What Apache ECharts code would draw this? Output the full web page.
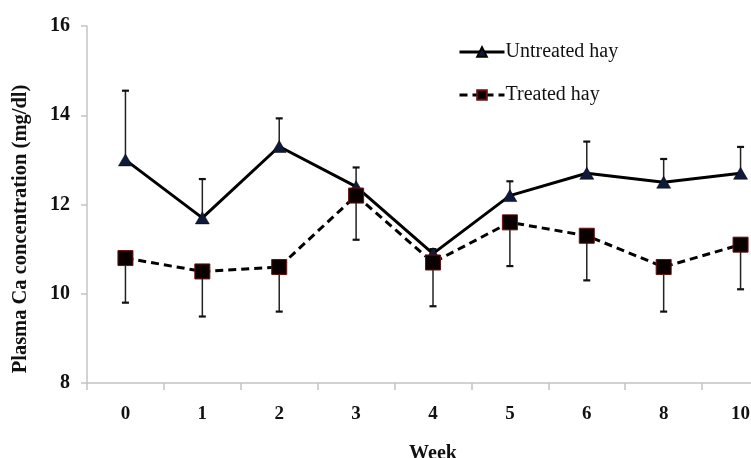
<!DOCTYPE html>
<html>
<head>
<meta charset="utf-8">
<script src="https://cdn.jsdelivr.net/npm/echarts@6/dist/echarts.min.js"></script>
<style>
html,body{margin:0;padding:0;background:#fff;}
#c{width:751px;height:458px;}
</style>
</head>
<body>
<div id="c"></div>
<script>
const weeks = ['0', '1', '2', '3', '4', '5', '6', '8', '10'];
const untreated = [13.0, 11.7, 13.3, 12.4, 10.9, 12.2, 12.7, 12.5, 12.7];
const treated = [10.8, 10.5, 10.6, 12.2, 10.7, 11.6, 11.3, 10.6, 11.1];
const untreatedUpper = [14.55, 12.57, 13.93, 12.83, 11.0, 12.52, 13.41, 13.02, 13.29];
const treatedLower = [9.8, 9.49, 9.6, 11.21, 9.72, 10.62, 10.3, 9.6, 10.1];
const yTicks = { min: 8, max: 16, interval: 2 };

const FONT = 'Liberation Serif';

function errData(center, end) {
  return center.map((v, i) => [i, v, end[i]]);
}

function renderErr(params, api) {
  const x = api.value(0);
  const p1 = api.coord([x, api.value(1)]);
  const p2 = api.coord([x, api.value(2)]);
  return {
    type: 'group',
    children: [
      { type: 'line', shape: { x1: p1[0], y1: p1[1], x2: p2[0], y2: p2[1] },
        style: { stroke: '#222', lineWidth: 1.5 } },
      { type: 'line', shape: { x1: p2[0] - 3.5, y1: p2[1], x2: p2[0] + 3.5, y2: p2[1] },
        style: { stroke: '#111', lineWidth: 2.2 } }
    ]
  };
}

const chart = echarts.init(document.getElementById('c'), null, { renderer: 'canvas' });
chart.setOption({
  animation: false,
  backgroundColor: '#fff',
  grid: { left: 87, top: 26, bottom: 75, width: 692, containLabel: false, outerBoundsMode: 'none' },
  legend: {
    orient: 'vertical',
    left: 453,
    top: 37,
    itemWidth: 45,
    itemHeight: 12,
    itemGap: 23,
    lineStyle: { width: 3 },
    data: ['Untreated hay', 'Treated hay'],
    textStyle: { fontFamily: FONT, fontSize: 20, color: '#111', padding: [0, 0, 0, -4] }
  },
  xAxis: {
    type: 'category',
    data: weeks,
    boundaryGap: true,
    name: 'Week',
    nameLocation: 'middle',
    nameGap: 61,
    nameTextStyle: { fontFamily: FONT, fontSize: 20, fontWeight: 'bold', color: '#111' },
    axisLine: { lineStyle: { color: '#c4c4c4', width: 1.5 } },
    axisTick: { show: true, length: 7, lineStyle: { color: '#c4c4c4', width: 1.5 } },
    axisLabel: { margin: 22, fontFamily: FONT, fontSize: 19, fontWeight: 'bold', color: '#111' },
    splitLine: { show: false }
  },
  yAxis: {
    type: 'value',
    min: yTicks.min,
    max: yTicks.max,
    interval: yTicks.interval,
    axisLine: { show: true, lineStyle: { color: '#c4c4c4', width: 1.5 } },
    axisTick: { show: true, length: 6, lineStyle: { color: '#c4c4c4', width: 1.5 } },
    axisLabel: { margin: 17, fontFamily: FONT, fontSize: 20, fontWeight: 'bold', color: '#111' },
    splitLine: { show: false }
  },
  graphic: [{
    type: 'text',
    x: 21,
    y: 229,
    rotation: Math.PI / 2,
    style: {
      text: 'Plasma Ca concentration (mg/dl)',
      fontFamily: FONT,
      fontSize: 20.5,
      fontWeight: 'bold',
      fill: '#111',
      align: 'center',
      verticalAlign: 'middle'
    }
  }],
  series: [
    {
      type: 'custom',
      name: 'errU',
      renderItem: renderErr,
      data: errData(untreated, untreatedUpper),
      z: 1,
      silent: true
    },
    {
      type: 'custom',
      name: 'errT',
      renderItem: renderErr,
      data: errData(treated, treatedLower),
      z: 1,
      silent: true
    },
    {
      name: 'Untreated hay',
      type: 'line',
      data: untreated,
      z: 3,
      symbol: 'triangle',
      symbolSize: [14, 12],
      itemStyle: { color: '#0f1a3a', borderColor: '#000', borderWidth: 0.5 },
      lineStyle: { color: '#000', width: 3, type: 'solid' }
    },
    {
      name: 'Treated hay',
      type: 'line',
      data: treated,
      z: 4,
      symbol: 'rect',
      symbolSize: 15,
      itemStyle: { color: '#0a0000', borderColor: '#6a1010', borderWidth: 1 },
      lineStyle: { color: '#000', width: 3, type: [8, 5] }
    }
  ]
});
</script>
</body>
</html>
